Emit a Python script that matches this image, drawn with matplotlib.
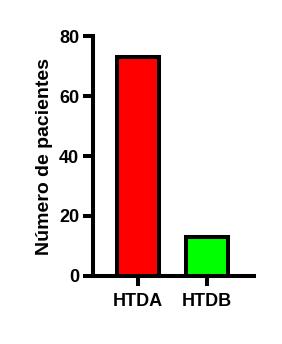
import matplotlib.pyplot as plt

categories = ["HTDA", "HTDB"]
values = [73, 13]
colors = ["#ff0000", "#00ff00"]

plt.rcParams['font.family'] = ['Liberation Sans', 'DejaVu Sans']
plt.rcParams['font.weight'] = 'bold'

fig = plt.figure(figsize=(2.82, 3.44), dpi=100)
ax = fig.add_axes([0.33, 0.198, 0.57, 0.697])

ax.bar(range(len(categories)), values, width=0.62, color=colors,
       edgecolor="black", linewidth=2.9)

ax.set_xlim(-0.65, 1.68)
ax.set_ylim(0, 80)
ax.set_yticks([0, 20, 40, 60, 80])
ax.set_xticks(range(len(categories)))
ax.set_xticklabels(categories)
ax.set_ylabel("Número de pacientes", fontsize=14, fontweight='bold', labelpad=4)

for s in ["top", "right"]:
    ax.spines[s].set_visible(False)
for s in ["left", "bottom"]:
    ax.spines[s].set_linewidth(2.9)
ax.tick_params(width=2.9, length=7, labelsize=13, pad=3)
ax.tick_params(axis="x", pad=5)

fig.savefig("out.png", dpi=100)
